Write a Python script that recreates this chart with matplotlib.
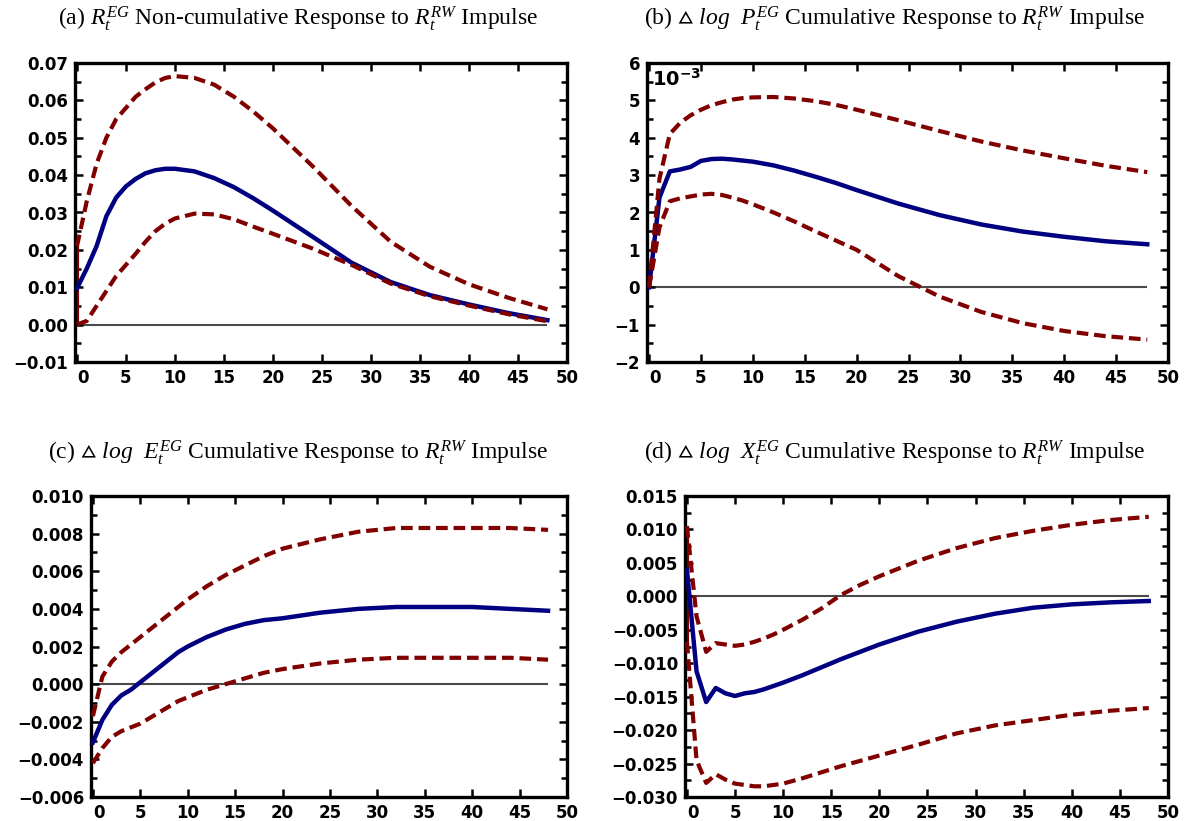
"""
Responses to an R^RW impulse: point estimate (solid) and error bands (dashed)
for R^EG and the cumulative dlog of P^EG, E^EG and X^EG, 48 periods ahead.
"""
import matplotlib
matplotlib.use("Agg")
import matplotlib.pyplot as plt
from matplotlib.ticker import FuncFormatter, MultipleLocator

# periods after the impulse
HORIZON = [0, 1, 2, 3, 4, 5, 6, 7, 8, 9, 10, 12, 14, 16, 18, 20, 24, 28, 32, 36, 40, 44, 48]

# (a) R^EG, non-cumulative
REG_MID = [0.0097, 0.0150, 0.0210, 0.0290, 0.0340, 0.0370, 0.0390, 0.0405, 0.0413, 0.0417,
           0.0417, 0.0410, 0.0392, 0.0368, 0.0338, 0.0305, 0.0236, 0.0166, 0.0114, 0.0079,
           0.0054, 0.0031, 0.0012]
REG_UP = [0.0210, 0.0330, 0.0430, 0.0500, 0.0550, 0.0580, 0.0610, 0.0630, 0.0648, 0.0660,
          0.0665, 0.0660, 0.0642, 0.0610, 0.0570, 0.0525, 0.0425, 0.0318, 0.0222, 0.0155,
          0.0108, 0.0072, 0.0041]
REG_LO = [0.0000, 0.0010, 0.0050, 0.0090, 0.0130, 0.0160, 0.0190, 0.0222, 0.0250, 0.0270,
          0.0284, 0.0297, 0.0295, 0.0282, 0.0262, 0.0243, 0.0204, 0.0160, 0.0110, 0.0076,
          0.0051, 0.0028, 0.0009]

# (b) dlog P^EG, cumulative, in units of 1e-3
PEG_MID = [0.00, 2.40, 3.10, 3.15, 3.22, 3.38, 3.43, 3.44, 3.42, 3.39, 3.36, 3.26, 3.12,
           2.96, 2.79, 2.60, 2.24, 1.93, 1.68, 1.49, 1.35, 1.23, 1.15]
PEG_UP = [0.00, 2.90, 4.10, 4.40, 4.60, 4.75, 4.87, 4.95, 5.02, 5.06, 5.08, 5.09, 5.05,
          4.98, 4.88, 4.75, 4.47, 4.18, 3.90, 3.66, 3.45, 3.25, 3.08]
PEG_LO = [0.00, 1.60, 2.30, 2.38, 2.43, 2.48, 2.50, 2.47, 2.40, 2.32, 2.22, 2.00, 1.76,
          1.50, 1.25, 1.00, 0.30, -0.25, -0.66, -0.96, -1.17, -1.31, -1.40]

# (c) dlog E^EG, cumulative
EEG_MID = [-0.0031, -0.0019, -0.0011, -0.0006, -0.0003, 0.0001, 0.0005, 0.0009, 0.0013, 0.0017,
           0.0020, 0.0025, 0.0029, 0.0032, 0.0034, 0.0035, 0.0038, 0.0040, 0.0041, 0.0041,
           0.0041, 0.0040, 0.0039]
EEG_UP = [-0.0017, 0.0004, 0.0012, 0.0017, 0.0021, 0.0025, 0.0029, 0.0033, 0.0037, 0.0041,
          0.0045, 0.0052, 0.0058, 0.0063, 0.0068, 0.0072, 0.0077, 0.0081, 0.0083, 0.0083,
          0.0083, 0.0083, 0.0082]
EEG_LO = [-0.0042, -0.0034, -0.0028, -0.0025, -0.0023, -0.0021, -0.0018, -0.0015, -0.0012, -0.0009,
          -0.0007, -0.0003, 0.0000, 0.0003, 0.0006, 0.0008, 0.0011, 0.0013, 0.0014, 0.0014,
          0.0014, 0.0014, 0.0013]

# (d) dlog X^EG, cumulative
XEG_MID = [0.0040, -0.0112, -0.0158, -0.0137, -0.0145, -0.0149, -0.0145, -0.0143, -0.0139, -0.0134,
           -0.0129, -0.0118, -0.0106, -0.0094, -0.0083, -0.0072, -0.0053, -0.0038, -0.0026, -0.0017,
           -0.0012, -0.0009, -0.0007]
XEG_UP = [0.0105, -0.0030, -0.0083, -0.0070, -0.0072, -0.0074, -0.0072, -0.0068, -0.0063, -0.0057,
          -0.0050, -0.0035, -0.0018, 0.0002, 0.0017, 0.0030, 0.0053, 0.0072, 0.0087, 0.0098,
          0.0107, 0.0114, 0.0119]
XEG_LO = [-0.0068, -0.0245, -0.0279, -0.0266, -0.0274, -0.0280, -0.0282, -0.0284, -0.0284, -0.0282,
          -0.0280, -0.0272, -0.0263, -0.0254, -0.0246, -0.0238, -0.0222, -0.0205, -0.0193, -0.0185,
          -0.0177, -0.0171, -0.0167]

TITLES = [
    r"(a) $R_t^{EG}$ Non-cumulative Response to $R_t^{RW}$ Impulse",
    r"(b) $\vartriangle$ $log\ \ P_t^{EG}$ Cumulative Response to $R_t^{RW}$ Impulse",
    r"(c) $\vartriangle$ $log\ \ E_t^{EG}$ Cumulative Response to $R_t^{RW}$ Impulse",
    r"(d) $\vartriangle$ $log\ \ X_t^{EG}$ Cumulative Response to $R_t^{RW}$ Impulse",
]

BLUE = "#000080"
RED = "#800000"

plt.rcParams.update({
    "font.family": "DejaVu Sans",
    "font.size": 12,
    "mathtext.fontset": "custom",
    "mathtext.rm": "Liberation Serif",
    "mathtext.it": "Liberation Serif:italic",
    "mathtext.bf": "DejaVu Sans:bold",
    "mathtext.fallback": "stix",
})


def num_fmt(decimals):
    def f(v, _):
        if abs(v) < 1e-12:
            v = 0.0
        return f"{v:.{decimals}f}".replace("-", "\u2212")
    return FuncFormatter(f)


def draw_panel(ax, mid, up, lo, ylim, major, decimals, impact_bar):
    ax.hlines(0, HORIZON[0], HORIZON[-1], color="#4a4a4a", lw=1.5, zorder=1)
    if impact_bar:
        ax.vlines(HORIZON[0], lo[0], up[0], color=RED, lw=3.0, zorder=2)
    ax.plot(HORIZON, mid, color=BLUE, lw=3.2, zorder=3)
    for band in (up, lo):
        ax.plot(HORIZON, band, color=RED, lw=3.0, ls=(0, (2.8, 1.4)), zorder=4)

    ax.set_xlim(-0.2, 50)
    ax.set_ylim(*ylim)
    ax.set_xticks(range(0, 51, 5))
    ax.yaxis.set_major_locator(MultipleLocator(major))
    ax.yaxis.set_minor_locator(MultipleLocator(major / 2))
    ax.yaxis.set_major_formatter(num_fmt(decimals))
    ax.tick_params(which="both", direction="in", top=True, right=True, width=1.8)
    ax.tick_params(which="major", length=6, pad=5, labelsize=12)
    ax.tick_params(which="minor", length=4)
    for s in ax.spines.values():
        s.set_linewidth(2.4)
    plt.setp(ax.get_xticklabels() + ax.get_yticklabels(), fontweight="bold")
    ax.get_xticklabels()[0].set_horizontalalignment("left")


fig = plt.figure(figsize=(11.86, 8.21), dpi=100)
W, H = 1186, 821


def add_axes(left, right, top, bottom):
    return fig.add_axes([left / W, 1 - bottom / H, (right - left) / W, (bottom - top) / H])


ax_a = add_axes(75, 567, 63, 362)
ax_b = add_axes(647, 1168, 63, 362)
ax_c = add_axes(91, 567, 496, 797)
ax_d = add_axes(685, 1168, 496, 797)

draw_panel(ax_a, REG_MID, REG_UP, REG_LO, (-0.01, 0.07), 0.01, 2, True)
draw_panel(ax_b, PEG_MID, PEG_UP, PEG_LO, (-2, 6), 1, 0, False)
draw_panel(ax_c, EEG_MID, EEG_UP, EEG_LO, (-0.006, 0.010), 0.002, 3, False)
draw_panel(ax_d, XEG_MID, XEG_UP, XEG_LO, (-0.030, 0.015), 0.005, 3, True)

ax_b.text(0.01, 0.925, r"$\mathbf{10^{-3}}$", transform=ax_b.transAxes,
          fontsize=14, ha="left", va="baseline")

title_pos = [(298, 25), (895, 25), (298, 459), (895, 459)]
for (x, y), title in zip(title_pos, TITLES):
    fig.text(x / W, 1 - y / H, title, ha="center", va="baseline", fontsize=17,
             family="Liberation Serif")

fig.savefig("out.png", dpi=100)
